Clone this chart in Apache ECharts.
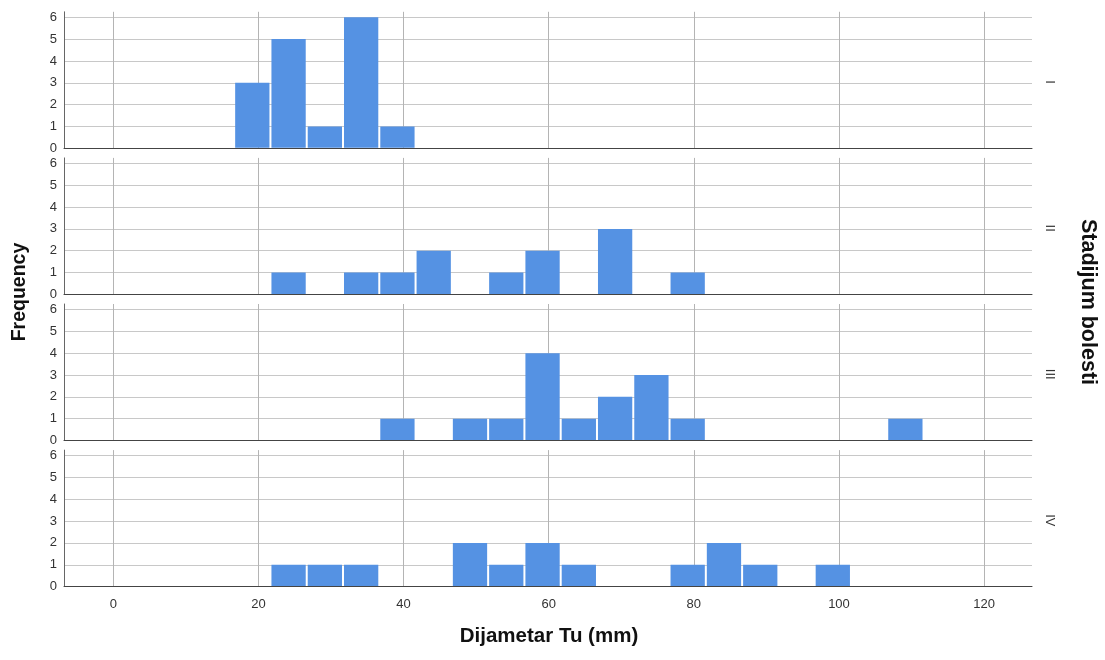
<!DOCTYPE html>
<html>
<head>
<meta charset="utf-8">
<script src="https://cdn.jsdelivr.net/npm/echarts@6/dist/echarts.min.js"></script>
<style>
html,body{margin:0;padding:0;background:#fff;}
#chart{width:1105px;height:660px;}
</style>
</head>
<body>
<div id="chart"></div>
<script>
// ---- data ----
var panelNames = ['I', 'II', 'III', 'IV'];
var binStart = 16.65;  // left edge of first bin (mm)
var binWidth = 5;      // bin width (mm)
// frequency per bin (bin k covers [binStart + k*binWidth, binStart + (k+1)*binWidth])
var countsI   = [3, 5, 1, 6, 1, 0, 0, 0, 0, 0, 0, 0, 0, 0, 0, 0, 0, 0, 0];
var countsII  = [0, 1, 0, 1, 1, 2, 0, 1, 2, 0, 3, 0, 1, 0, 0, 0, 0, 0, 0];
var countsIII = [0, 0, 0, 0, 1, 0, 1, 1, 4, 1, 2, 3, 1, 0, 0, 0, 0, 0, 1];
var countsIV  = [0, 1, 1, 1, 0, 0, 2, 1, 2, 1, 0, 0, 1, 2, 1, 0, 1, 0, 0];
var xTicks = [0, 20, 40, 60, 80, 100, 120];
var yTicks = [0, 1, 2, 3, 4, 5, 6];
var xTitle = 'Dijametar Tu (mm)';
var yTitle = 'Frequency';
var facetTitle = 'Stadijum bolesti';

var allCounts = [countsI, countsII, countsIII, countsIV];

// ---- layout ----
var LEFT = 64, RIGHT = 73, TOP0 = 11.8, STEP = 146.1, H = 136.5;
var barColor = '#5592e3';
var FONT = '"Liberation Sans", Arial, sans-serif';

var grids = [], xAxes = [], yAxes = [], series = [], graphics = [];
allCounts.forEach(function (counts, i) {
  var top = TOP0 + STEP * i;
  grids.push({left: LEFT, right: RIGHT, top: top, height: H});
  var last = (i === allCounts.length - 1);
  xAxes.push({
    type: 'value', gridIndex: i, min: -6.8, max: 126.6,
    axisLine: {show: true, onZero: false, lineStyle: {color: '#444', width: 1}},
    axisTick: {show: false, customValues: xTicks},
    axisLabel: {show: last, customValues: xTicks, color: '#333', fontSize: 13,
                fontFamily: FONT, margin: 11},
    splitLine: {show: true, lineStyle: {color: '#b4b4b4', width: 1}}
  });
  yAxes.push({
    type: 'value', gridIndex: i, min: 0, max: 6.25,
    axisLine: {show: true, onZero: false, lineStyle: {color: '#666', width: 1}},
    axisTick: {show: false, customValues: yTicks},
    axisLabel: {customValues: yTicks, color: '#333', fontSize: 13,
                fontFamily: FONT, margin: 7},
    splitLine: {show: true, lineStyle: {color: '#c8c8c8', width: 1}}
  });
  var data = [];
  counts.forEach(function (c, k) {
    if (c > 0) data.push([binStart + k * binWidth, binStart + (k + 1) * binWidth, c]);
  });
  series.push({
    type: 'custom', xAxisIndex: i, yAxisIndex: i, data: data,
    encode: {x: [0, 1], y: 2},
    renderItem: function (params, api) {
      var p0 = api.coord([api.value(0), 0]);
      var p1 = api.coord([api.value(1), api.value(2)]);
      return {
        type: 'rect',
        shape: {x: p0[0] + 1, y: p1[1], width: p1[0] - p0[0] - 2, height: p0[1] - p1[1] - 0.5},
        style: {fill: barColor}
      };
    },
    z: 3
  });
  graphics.push({
    type: 'text', x: 1050, y: top + H / 2 + 2, rotation: -Math.PI / 2,
    style: {text: panelNames[i], fill: '#333', font: '13px ' + FONT,
            align: 'center', verticalAlign: 'middle'}
  });
});

graphics.push({
  type: 'text', x: 549, y: 636,
  style: {text: xTitle, fill: '#111', font: 'bold 20.5px ' + FONT,
          align: 'center', verticalAlign: 'middle'}
});
graphics.push({
  type: 'text', x: 20, y: 292, rotation: Math.PI / 2,
  style: {text: yTitle, fill: '#111', font: 'bold 19.5px ' + FONT,
          align: 'center', verticalAlign: 'middle'}
});
graphics.push({
  type: 'text', x: 1088, y: 302, rotation: -Math.PI / 2,
  style: {text: facetTitle, fill: '#111', font: 'bold 21.5px ' + FONT,
          align: 'center', verticalAlign: 'middle'}
});

var chart = echarts.init(document.getElementById('chart'), null, {renderer: 'canvas'});
chart.setOption({
  animation: false,
  backgroundColor: '#fff',
  grid: grids,
  xAxis: xAxes,
  yAxis: yAxes,
  series: series,
  graphic: graphics
});
</script>
</body>
</html>
